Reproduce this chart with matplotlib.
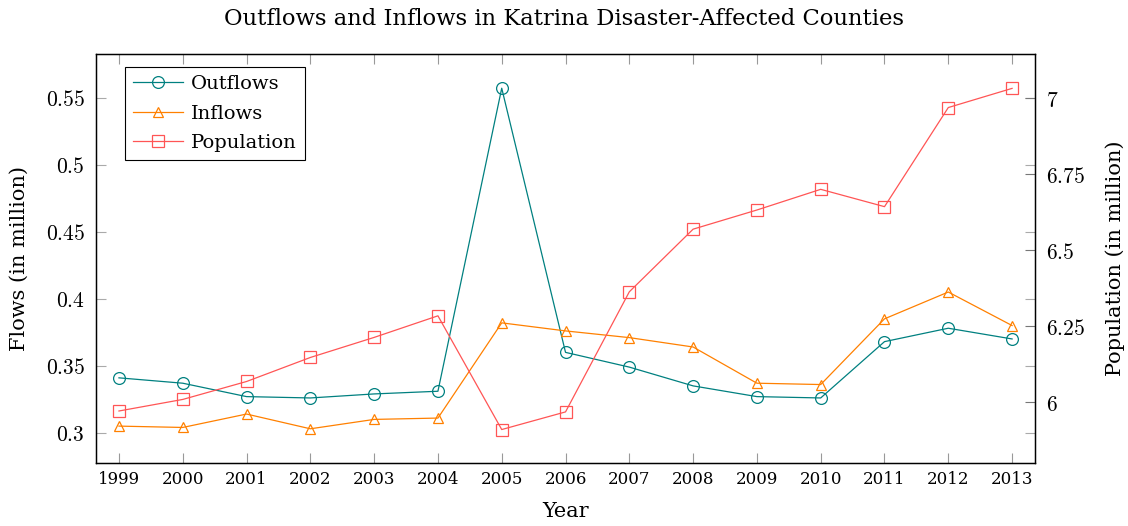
import numpy as np
import matplotlib
matplotlib.use("Agg")
import matplotlib.pyplot as plt

plt.rcParams['font.family'] = ['DejaVu Serif']
plt.rcParams['mathtext.fontset'] = 'cm'

years = list(range(1999, 2014))
outflows = [0.341, 0.337, 0.327, 0.326, 0.329, 0.331, 0.557, 0.360,
            0.349, 0.335, 0.327, 0.326, 0.368, 0.378, 0.370]
inflows = [0.305, 0.304, 0.314, 0.303, 0.310, 0.311, 0.382, 0.376,
           0.371, 0.364, 0.337, 0.336, 0.385, 0.405, 0.380]
population = [5.971, 6.009, 6.068, 6.147, 6.213, 6.284, 5.910, 5.968,
              6.363, 6.569, 6.632, 6.700, 6.643, 6.969, 7.032]
flow_ticks = [0.3, 0.35, 0.4, 0.45, 0.5, 0.55]
pop_ticks = [6, 6.25, 6.5, 6.75, 7]

teal = '#008080'
orange = '#ff8000'
red = '#ff5555'

fig = plt.figure(figsize=(11.28, 5.26), dpi=100)
ax = fig.add_axes([0.0851, 0.1198, 0.8325, 0.7775])
ax2 = ax.twinx()

l1, = ax.plot(years, outflows, color=teal, lw=0.9, marker='o', ms=8.5,
              mfc='none', mec=teal, mew=0.9, label='Outflows')
l2, = ax.plot(years, inflows, color=orange, lw=0.9, marker='^', ms=7.5,
              mfc='none', mec=orange, mew=0.9, label='Inflows')
l3, = ax2.plot(years, population, color=red, lw=0.9, marker='s', ms=9,
               mfc='none', mec=red, mew=0.9, label='Population')

ax.set_xlim(1998.64, 2013.36)
ax.set_ylim(0.2775, 0.5825)
ax2.set_ylim(5.80, 7.145)

ax.set_xticks(years)
ax.set_xticklabels([str(y) for y in years], fontsize=12)
ax.set_yticks(flow_ticks)
ax.set_yticklabels(['$%g$' % v for v in flow_ticks], fontsize=15.5)
ax2.set_yticks(pop_ticks)
ax2.set_yticklabels(['$%g$' % v for v in pop_ticks], fontsize=15.5)

ax.tick_params(axis='x', direction='in', length=7, color='#999999',
               top=True, pad=6)
ax.tick_params(axis='y', direction='in', length=7, color='#aaaaaa',
               right=True, pad=8)
ax2.tick_params(axis='y', direction='in', length=7, color='#777777', pad=8)

for sp in ax2.spines.values():
    sp.set_linewidth(1.0)

ax.set_xlabel('Year', fontsize=15, labelpad=10)
ax.set_ylabel('Flows (in million)', fontsize=15, labelpad=12)
ax2.set_ylabel('Population (in million)', fontsize=15, labelpad=14)
fig.suptitle('Outflows and Inflows in Katrina Disaster-Affected Counties',
             fontsize=16.3, y=0.985)

leg = ax2.legend(handles=[l1, l2, l3], loc='upper left',
                 bbox_to_anchor=(0.031, 0.968), borderaxespad=0,
                 fontsize=14, fancybox=False,
                 edgecolor='black', framealpha=1, borderpad=0.4,
                 labelspacing=0.6, handlelength=2.6, handletextpad=0.4)
leg.get_frame().set_linewidth(0.8)

fig.savefig('out.png', dpi=100)
